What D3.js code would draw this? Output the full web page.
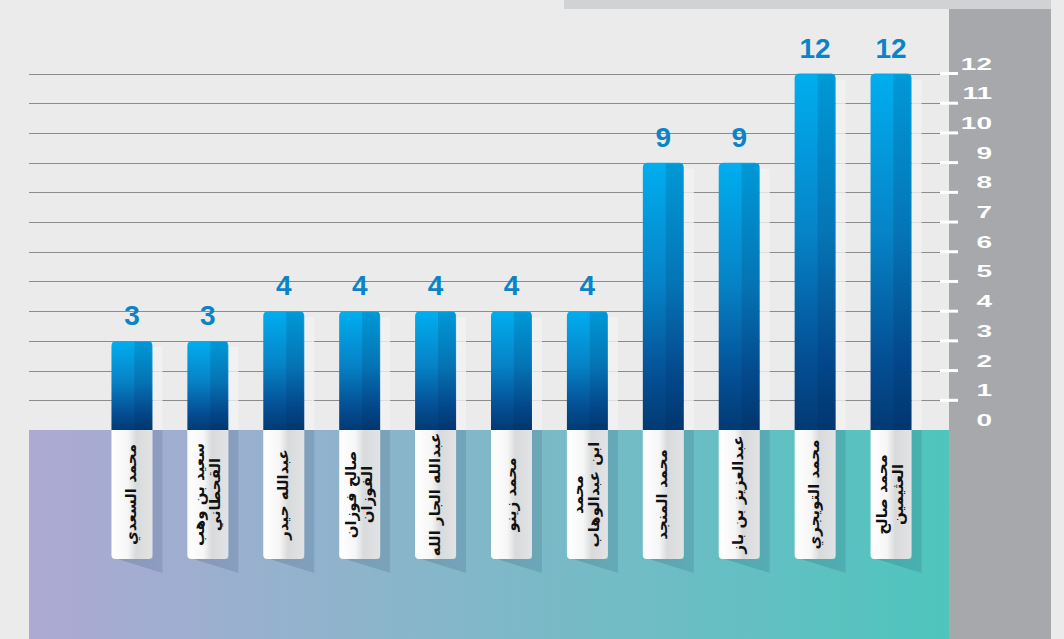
<!DOCTYPE html>
<html>
<head>
<meta charset="utf-8">
<script src="https://cdn.jsdelivr.net/npm/d3@7"></script>
<style>
  html, body { margin: 0; padding: 0; background: #ebebeb; }
  svg { display: block; }
</style>
</head>
<body>
<script>
// ---- data ----
const categories = [
  "محمد السعدي",
  "سعيد بن وهب|القحطاني",
  "عبدالله حيدر",
  "صالح فوزان|الفوزان",
  "عبدالله الجار الله",
  "محمد زينو",
  "محمد|ابن عبدالوهاب",
  "محمد المنجد",
  "عبدالعزيز بن باز",
  "محمد التويجري",
  "محمد صالح|العثيمين"
];
const values = [3, 3, 4, 4, 4, 4, 4, 9, 9, 12, 12];
const tickValues = [0, 1, 2, 3, 4, 5, 6, 7, 8, 9, 10, 11, 12];

// ---- layout ----
const W = 1064, H = 639;
const baseY = 430;
const svg = d3.select("body").append("svg").attr("width", W).attr("height", H);
const defs = svg.append("defs");

const x = d3.scaleBand().domain(categories).range([94, 929]).paddingInner(0.46).paddingOuter(0.23);
const y = d3.scaleLinear().domain([0, 12]).range([baseY, 73.5]);
const bw = x.bandwidth();

// gradients
const gBar = defs.append("linearGradient").attr("id", "gBar").attr("x1", 0).attr("y1", 0).attr("x2", 0).attr("y2", 1);
[[0, "#00aeef"], [0.45, "#0683c7"], [0.8, "#044f95"], [1, "#023a74"]].forEach(([o, c]) =>
  gBar.append("stop").attr("offset", o).attr("stop-color", c));

const gFloor = defs.append("linearGradient").attr("id", "gFloor").attr("x1", 0).attr("y1", 0).attr("x2", 1).attr("y2", 0);
[[0, "#aea9d4"], [0.5, "#80b8c8"], [1, "#4ec5bd"]].forEach(([o, c]) =>
  gFloor.append("stop").attr("offset", o).attr("stop-color", c));

const gTab = defs.append("linearGradient").attr("id", "gTab").attr("x1", 0).attr("y1", 0).attr("x2", 1).attr("y2", 0);
[[0, "#ffffff"], [0.4, "#f6f6f6"], [0.6, "#d9dadc"], [1, "#e2e3e4"]].forEach(([o, c]) =>
  gTab.append("stop").attr("offset", o).attr("stop-color", c));

const gShade = defs.append("linearGradient").attr("id", "gShade").attr("x1", 0).attr("y1", 0).attr("x2", 1).attr("y2", 0);
[[0, "#00204f", 0.0], [0.08, "#00204f", 0.16], [1, "#00204f", 0.12]].forEach(([o, c, a]) =>
  gShade.append("stop").attr("offset", o).attr("stop-color", c).attr("stop-opacity", a));

// ---- background pieces ----
svg.append("rect").attr("x", 0).attr("y", 0).attr("width", W).attr("height", H).attr("fill", "#ebebeb");
svg.append("rect").attr("x", 564).attr("y", 0).attr("width", 487).attr("height", 9).attr("fill", "#d1d2d4");
svg.append("rect").attr("x", 949).attr("y", 9).attr("width", 102).attr("height", H - 9).attr("fill", "#a7a8ab");
svg.append("rect").attr("x", 29).attr("y", baseY).attr("width", 920).attr("height", H - baseY).attr("fill", "url(#gFloor)");

// gridlines
svg.append("g").selectAll("line").data(tickValues.filter(d => d > 0)).join("line")
  .attr("x1", 29).attr("x2", 948)
  .attr("y1", d => Math.round(y(d)) + 0.5).attr("y2", d => Math.round(y(d)) + 0.5)
  .attr("stroke", "#8c8c8c").attr("stroke-width", 1);

// light strips to the right of bars
const items = categories.map((c, i) => ({ c, v: values[i], x0: x(c) }));
svg.append("g").selectAll("rect").data(items).join("rect")
  .attr("x", d => d.x0 + bw).attr("y", d => y(d.v) + 6)
  .attr("width", 10).attr("height", d => baseY - y(d.v) - 6)
  .attr("fill", "#f2f2f2").attr("opacity", 0.8);

// bars with rounded top corners
function barPath(x0, top, w, bottom, r) {
  return `M${x0},${bottom}V${top + r}Q${x0},${top} ${x0 + r},${top}H${x0 + w - r}Q${x0 + w},${top} ${x0 + w},${top + r}V${bottom}Z`;
}
const bars = svg.append("g");
bars.selectAll("path.bar").data(items).join("path").attr("class", "bar")
  .attr("d", d => barPath(d.x0, y(d.v), bw, baseY, 5))
  .attr("fill", "url(#gBar)");
bars.selectAll("rect.shade").data(items).join("rect").attr("class", "shade")
  .attr("x", d => d.x0 + bw * 0.56).attr("y", d => y(d.v) + 1)
  .attr("width", bw * 0.44 - 1).attr("height", d => baseY - y(d.v) - 1)
  .attr("fill", "#002050").attr("opacity", 0.15);

// shadows under tabs
const tabBottom = 559;
svg.append("g").selectAll("path").data(items).join("path")
  .attr("d", d => {
    const x1 = d.x0 + bw;
    return `M${x1},${baseY}H${x1 + 10}V${tabBottom + 14}L${d.x0 + 6},${tabBottom}H${x1}Z`;
  })
  .attr("fill", "url(#gShade)");

// tabs
svg.append("g").selectAll("path").data(items).join("path")
  .attr("d", d => {
    const x0 = d.x0, x1 = d.x0 + bw, r = 4;
    return `M${x0},${baseY}H${x1}V${tabBottom - r}Q${x1},${tabBottom} ${x1 - r},${tabBottom}H${x0 + r}Q${x0},${tabBottom} ${x0},${tabBottom - r}Z`;
  })
  .attr("fill", "url(#gTab)");

// tab labels (rotated)
const tabMid = (baseY + tabBottom) / 2;
const lab = svg.append("g").selectAll("text").data(items).join("text")
  .attr("transform", d => `translate(${d.x0 + bw / 2 - 1},${tabMid}) rotate(-90)`)
  .attr("text-anchor", "middle")
  .attr("font-family", "'DejaVu Sans', 'Noto Sans', sans-serif")
  .attr("font-weight", "bold")
  .attr("font-size", 15)
  .attr("fill", "#111");
lab.each(function (d) {
  const lines = d.c.split("|");
  const n = lines.length;
  d3.select(this).selectAll("tspan").data(lines).join("tspan")
    .attr("x", 0)
    .attr("y", (l, i) => (i - (n - 1) / 2) * 16 + 5)
    .text(l => l);
});

// value labels
svg.append("g").selectAll("text").data(items).join("text")
  .attr("x", d => d.x0 + bw / 2).attr("y", d => y(d.v) - 16)
  .attr("text-anchor", "middle")
  .attr("font-family", "'Liberation Sans', Arial, sans-serif")
  .attr("font-weight", "bold").attr("font-size", 28)
  .attr("fill", "#0a84c6")
  .text(d => d.v);

// axis ticks & labels on right
svg.append("g").selectAll("line").data(tickValues.filter(d => d > 0)).join("line")
  .attr("x1", 940).attr("x2", 958)
  .attr("y1", d => y(d)).attr("y2", d => y(d))
  .attr("stroke", "#ffffff").attr("stroke-width", 3);
svg.append("g").selectAll("g").data(tickValues).join("g")
  .attr("transform", d => `translate(992,${y(d) - 4}) scale(1.75,1)`)
  .append("text")
  .attr("text-anchor", "end")
  .attr("font-family", "'Liberation Sans', Arial, sans-serif")
  .attr("font-weight", "bold").attr("font-size", 16)
  .attr("fill", "#ffffff")
  .text(d => d);
</script>
</body>
</html>
